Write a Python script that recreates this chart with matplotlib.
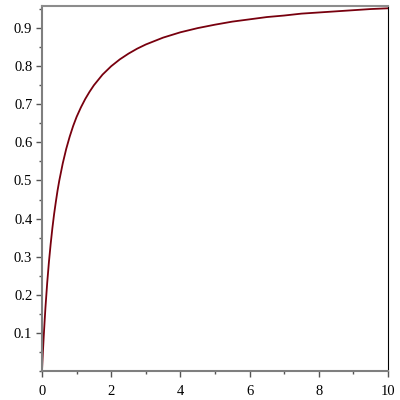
import matplotlib.pyplot as plt
from matplotlib.ticker import MultipleLocator, FixedLocator

# values
x_vals = [0, 0.025, 0.05, 0.075, 0.1, 0.15, 0.2, 0.25, 0.3, 0.35, 0.4, 0.45, 0.5, 0.6,
          0.7, 0.8, 0.9, 1.0, 1.125, 1.25, 1.375, 1.5, 1.75, 2.0, 2.25, 2.5, 2.75, 3.0,
          3.5, 4.0, 4.5, 5.0, 5.5, 6.0, 6.5, 7.0, 7.5, 8.0, 8.5, 9.0, 9.5, 10.0]
y_vals = [0.0, 0.048, 0.091, 0.130, 0.167, 0.231, 0.286, 0.333, 0.375, 0.412, 0.444,
          0.474, 0.5, 0.545, 0.583, 0.615, 0.643, 0.667, 0.692, 0.714, 0.733, 0.75,
          0.778, 0.8, 0.818, 0.833, 0.846, 0.857, 0.875, 0.889, 0.9, 0.909, 0.917,
          0.923, 0.929, 0.933, 0.938, 0.941, 0.944, 0.947, 0.95, 0.952]
x_ticks = [0, 2, 4, 6, 8, 10]
y_ticks = [0.1, 0.2, 0.3, 0.4, 0.5, 0.6, 0.7, 0.8, 0.9]

plt.rcParams["font.family"] = ["Liberation Serif", "DejaVu Serif"]

fig = plt.figure(figsize=(4, 4), dpi=100)
ax = fig.add_axes([0.105, 0.0725, 0.865, 0.9125])
ax.plot(x_vals, y_vals, color="#78000E", linewidth=1.3)

ax.set_xlim(0, 10)
ax.set_ylim(0, 0.958)
ax.xaxis.set_major_locator(FixedLocator(x_ticks))
ax.yaxis.set_major_locator(FixedLocator(y_ticks))
ax.xaxis.set_minor_locator(MultipleLocator(1))
ax.yaxis.set_minor_locator(MultipleLocator(0.05))
ax.set_xticklabels([str(t) for t in x_ticks])
ax.set_yticklabels([f"{t:.1f}" for t in y_ticks])

for side in ["left", "bottom"]:
    ax.spines[side].set_color("#7f7f7f")
    ax.spines[side].set_linewidth(1.5)
ax.spines["top"].set_color("#8c8c8c")
ax.spines["top"].set_linewidth(1.5)
ax.spines["right"].set_color("black")
ax.spines["right"].set_linewidth(0.8)

ax.tick_params(which="major", length=4, width=1, color="#555555", labelsize=10.5)
ax.tick_params(axis="x", which="major", pad=6)
ax.tick_params(axis="y", which="major", pad=3)
ax.tick_params(which="minor", length=2.5, width=1, color="#555555")

fig.savefig("out.png", dpi=100)
